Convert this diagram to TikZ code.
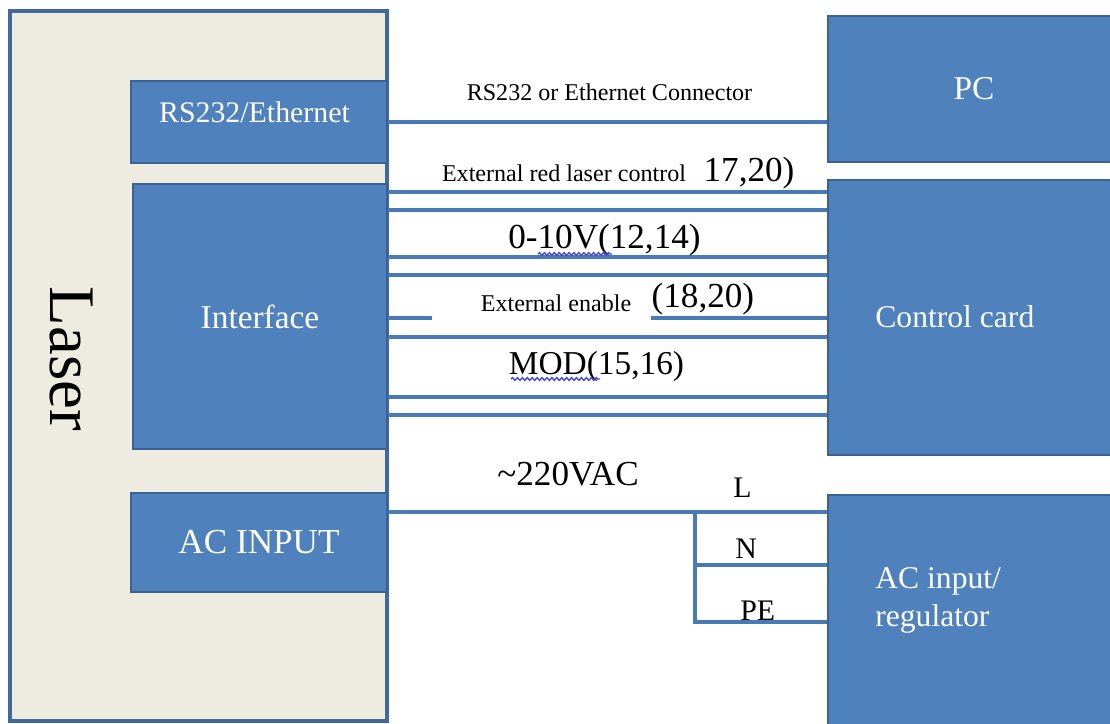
\documentclass[tikz,border=0pt]{standalone}
\usepackage{fontspec}
\setmainfont{Liberation Serif}
\usetikzlibrary{positioning,decorations.pathmorphing}

\definecolor{boxblue}{HTML}{4F81BD}
\definecolor{boxedge}{HTML}{3A6393}
\definecolor{laserfill}{HTML}{EEECE1}
\definecolor{laseredge}{HTML}{41699C}
\definecolor{wireblue}{HTML}{4A7AB5}
\definecolor{spellblue}{HTML}{4B4BD0}

\begin{document}
\begin{tikzpicture}[
        x=0.02cm, y=-0.02cm,
        every node/.style={inner sep=0pt},
        squiggle/.style={draw=spellblue,line width=0.8pt,
            decorate,decoration={snake,amplitude=0.8pt,segment length=2.8pt}}
    ]

    \tikzstyle{block} = [rectangle,draw=boxedge,fill=boxblue,line width=1.4pt,text=white]
    \tikzstyle{wire} = [draw=wireblue,line width=2.4pt]
    \tikzstyle{patch} = [rectangle,fill=white]
    \tikzstyle{note} = [font=\fontsize{13.7}{16}\selectfont]
    \tikzstyle{pin} = [font=\fontsize{20}{24}\selectfont]

    \path[use as bounding box,clip] (0,0) rectangle (1110,724);

    % laser side
    \node[rectangle,draw=laseredge,fill=laserfill,line width=2pt,
        minimum width=7.54cm,minimum height=14.2cm] (laser) at (198.5,366) {};
    \node[rotate=-90,font=\fontsize{37}{44}\selectfont] (lasertext) at (71,359) {Laser};
    \node[block,minimum width=5.12cm,minimum height=1.64cm] (rs) at (259,122) {};
    \node[text=white,anchor=base,font=\fontsize{17}{20}\selectfont] (rstext) at (254.5,122) {RS232/Ethernet};
    \node[block,minimum width=5.08cm,minimum height=5.3cm,
        font=\fontsize{19}{22}\selectfont] (iface) at (260,316.5) {Interface};
    \node[block,minimum width=5.12cm,minimum height=1.98cm,
        font=\fontsize{20}{24}\selectfont] (acin) at (259,542.5) {AC INPUT};

    % outside
    \node[block,minimum width=5.84cm,minimum height=2.92cm,
        font=\fontsize{19}{22}\selectfont] (pc) at (974,89) {PC};
    \node[block,minimum width=5.84cm,minimum height=5.5cm] (card) at (974,317.5) {};
    \node[text=white,anchor=base west,font=\fontsize{18}{22}\selectfont] (cardtext) at (875,327) {Control card};
    \node[block,minimum width=5.84cm,minimum height=5.3cm] (reg) at (974,627.5) {};
    \node[text=white,anchor=north west,align=left,font=\fontsize{18}{22}\selectfont]
        (regtext) at (875,567) {AC input/\\regulator};

    % wires
    \draw[wire] (rs.east) -- (rs.east -| pc.west);
    \foreach \y in {192,210,257,275,318,337,397,415}
        \draw[wire] (iface.east |- 0,\y) -- (card.west |- 0,\y);
    \coordinate (split) at (695,512);
    \draw[wire] (acin.east |- split) -- (reg.west |- split);
    \draw[wire] (split) |- (reg.west |- 0,622);
    \draw[wire] (split |- 0,565) -- (reg.west |- 0,565);

    % labels
    \node[note,anchor=base] (rslabel) at (609.5,100) {RS232 or Ethernet Connector};
    \node[patch,minimum width=5.96cm,minimum height=0.62cm] (redpatch) at (554,173.5) {};
    \node[note,anchor=base] (redlabel) at (564,181) {External red laser control};
    \node[pin,right=0pt of redpatch] (redpins) {17,20)};
    \node[pin,anchor=base] (voltlabel) at (604.5,248) {0-10V(12,14)};
    \node[patch,minimum width=4.38cm,minimum height=0.9cm] (enpatch) at (541.5,299.5) {};
    \node[note,anchor=base] (enlabel) at (556,311) {External enable};
    \node[pin,right=0pt of enpatch] (enpins) {(18,20)};
    \node[font=\fontsize{19}{22}\selectfont,anchor=base] (modlabel) at (596.5,374) {MOD(15,16)};
    \node[pin,anchor=base west] (aclabel) at (497,485) {\textasciitilde220VAC};
    \node[font=\fontsize{17}{20}\selectfont,anchor=base west] (lline) at (733,497) {L};
    \node[font=\fontsize{17}{20}\selectfont,anchor=base west] (nline) at (735,558) {N};
    \node[font=\fontsize{17}{20}\selectfont,anchor=base west] (peline) at (740,620) {PE};

    \draw[squiggle] (538,254) -- (612,254);
    \draw[squiggle] (511,379) -- (600,379);

\end{tikzpicture}
\end{document}
